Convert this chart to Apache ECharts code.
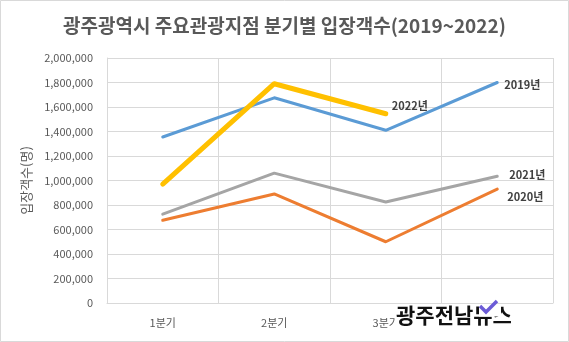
<!DOCTYPE html>
<html><head><meta charset="utf-8">
<script src="https://cdn.jsdelivr.net/npm/echarts@6/dist/echarts.min.js"></script>
<style>html,body{margin:0;padding:0;background:#fff}#c{width:569px;height:342px}</style>
</head><body><div id="c"></div>
<script>
const categories = ['1분기','2분기','3분기','4분기'];
const s2019 = [1355000, 1675000, 1410000, 1800000];
const s2020 = [675000, 890000, 500000, 930000];
const s2021 = [725000, 1060000, 825000, 1035000];
const s2022 = [970000, 1790000, 1545000];
const yTicks = [0, 2000000, 200000];
const font = '"Noto Sans CJK KR", sans-serif';
const chart = echarts.init(document.getElementById('c'));
function ser(name, data, color, width, off) {
  return {
    name, type: 'line', data, symbol: 'none', smooth: false,
    lineStyle: { color, width, cap: 'round', join: 'round' },
    itemStyle: { color },
    endLabel: { show: true, formatter: name, color: '#404040', fontSize: 11, fontFamily: font, fontWeight: 'bold', offset: off },
    emphasis: { disabled: true }
  };
}
chart.setOption({
  animation: false,
  backgroundColor: '#fff',
  title: {
    text: '광주광역시 주요관광지점 분기별 입장객수(2019~2022)',
    left: 'center', top: 11,
    textStyle: { fontFamily: font, fontSize: 19, fontWeight: 'bold', color: '#595959' }
  },
  grid: { left: 107, right: 16, top: 58, bottom: 39 },
  xAxis: {
    type: 'category', data: categories, boundaryGap: true,
    axisLine: { lineStyle: { color: '#d9d9d9' } },
    axisTick: { show: false },
    axisLabel: { color: '#595959', fontSize: 11, fontFamily: font, margin: 14 },
    splitLine: { show: true, lineStyle: { color: '#d9d9d9' } }
  },
  yAxis: {
    type: 'value', min: yTicks[0], max: yTicks[1], interval: yTicks[2],
    name: '입장객수(명)', nameLocation: 'middle', nameGap: 74, nameRotate: 90,
    nameTextStyle: { color: '#595959', fontSize: 13, fontFamily: font },
    axisLine: { show: true, lineStyle: { color: '#d9d9d9' } },
    axisLabel: { color: '#595959', fontSize: 11, fontFamily: font, margin: 14,
      formatter: v => v.toLocaleString('en-US') },
    splitLine: { lineStyle: { color: '#d9d9d9' } }
  },
  series: [
    ser('2019년', s2019, '#5B9BD5', 3, [-1, 2]),
    ser('2020년', s2020, '#ED7D31', 3, [2, 8]),
    ser('2021년', s2021, '#A5A5A5', 3, [4, -1]),
    ser('2022년', s2022, '#FFC000', 5, [-2, -8])
  ],
  graphic: [
    { type: 'rect', shape: { x: 0.5, y: 0.5, width: 568, height: 341 }, style: { fill: 'none', stroke: '#d9d9d9', lineWidth: 1 }, silent: true },
    { type: 'rect', z: 99, shape: { x: 396, y: 309, width: 128, height: 28 }, style: { fill: '#fff' } },
    { type: 'text', left: 396, top: 305, z: 100,
      style: { text: '광주전남뉴스', fill: '#111', font: 'bold 21px "Noto Sans CJK KR"' } },
    { type: 'rect', z: 101, shape: { x: 479, y: 305, width: 22, height: 11.5 }, style: { fill: '#fff' } },
    { type: 'polyline', z: 102, shape: { points: [[480, 306], [486, 312], [497, 301]] },
      style: { stroke: '#6b5bd6', lineWidth: 3.5, fill: 'none' } }
  ]
});
</script></body></html>
